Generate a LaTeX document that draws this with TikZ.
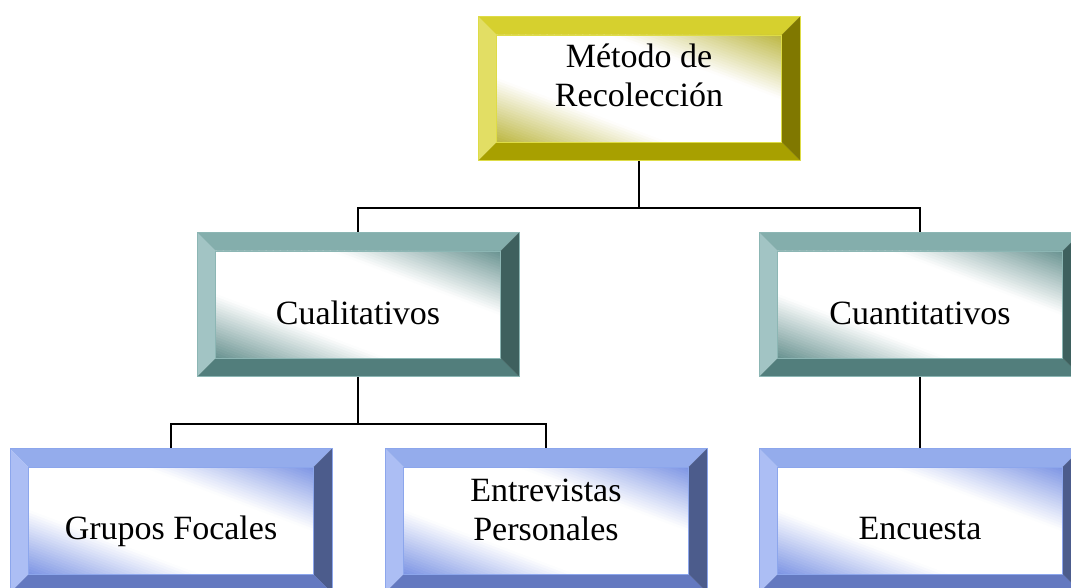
\documentclass[tikz,border=0pt]{standalone}
\usepackage{fontspec}
\setmainfont{Liberation Serif}

\definecolor{ytop}{RGB}{214,208,46}
\definecolor{yleft}{RGB}{226,222,100}
\definecolor{ybot}{RGB}{168,160,0}
\definecolor{yright}{RGB}{128,120,0}
\definecolor{yline}{RGB}{222,220,70}
\definecolor{ycorner}{RGB}{188,182,64}

\definecolor{ttop}{RGB}{132,174,172}
\definecolor{tleft}{RGB}{162,196,196}
\definecolor{tbot}{RGB}{82,126,124}
\definecolor{tright}{RGB}{62,96,94}
\definecolor{tline}{RGB}{140,182,180}
\definecolor{tcorner}{RGB}{104,146,144}

\definecolor{btop}{RGB}{148,172,236}
\definecolor{bleft}{RGB}{172,190,244}
\definecolor{bbot}{RGB}{100,121,192}
\definecolor{bright}{RGB}{76,92,140}
\definecolor{bline}{RGB}{140,166,236}
\definecolor{bcorner}{RGB}{124,148,228}

\tikzset{
  bevbox/.style n args={6}{
    minimum width=322pt, minimum height=144pt, inner sep=0pt,
    draw=#6, line width=0.8pt,
    path picture={
      \coordinate (nw) at (path picture bounding box.north west);
      \coordinate (ne) at (path picture bounding box.north east);
      \coordinate (sw) at (path picture bounding box.south west);
      \coordinate (se) at (path picture bounding box.south east);
      \fill[#1] (nw) -- (ne) -- ([xshift=-18.5pt,yshift=-18.5pt]ne) -- ([xshift=18.5pt,yshift=-18.5pt]nw) -- cycle;
      \fill[#3] (sw) -- (se) -- ([xshift=-18.5pt,yshift=18.5pt]se) -- ([xshift=18.5pt,yshift=18.5pt]sw) -- cycle;
      \fill[#2] (nw) -- ([xshift=18.5pt,yshift=-18.5pt]nw) -- ([xshift=18.5pt,yshift=18.5pt]sw) -- (sw) -- cycle;
      \fill[#4] (ne) -- ([xshift=-18.5pt,yshift=-18.5pt]ne) -- ([xshift=-18.5pt,yshift=18.5pt]se) -- (se) -- cycle;
      \begin{scope}[shift={(path picture bounding box.center)}, x=1pt, y=1pt]
        \begin{scope}
          \clip (-142.5,-53.5) rectangle (142.5,53.5);
          \fill[white] (-142.5,-53.5) rectangle (142.5,53.5);
          \foreach \i in {0,...,79}{
            \pgfmathsetmacro{\sa}{-2+\i*0.05}
            \pgfmathsetmacro{\sb}{\sa+0.06}
            \pgfmathsetmacro{\pc}{100*min(1,max(0,(abs(\sa+0.025)-0.8)/1.2))}
            \fill[#5!\pc!white] ({142.5*(\sa-1)},53.5) -- ({142.5*(\sb-1)},53.5) -- ({142.5*(\sb+1)},-53.5) -- ({142.5*(\sa+1)},-53.5) -- cycle;
          }
        \end{scope}
        \draw[#6, line width=0.6pt] (-142.5,-53.5) rectangle (142.5,53.5);
      \end{scope}
    }
  },
  yellowbox/.style={bevbox={ytop}{yleft}{ybot}{yright}{ycorner}{yline}},
  tealbox/.style={bevbox={ttop}{tleft}{tbot}{tright}{tcorner}{tline}},
  bluebox/.style={bevbox={btop}{bleft}{bbot}{bright}{bcorner}{bline}},
  lbl/.style={font=\fontsize{34}{39}\selectfont, align=center, inner sep=0pt, anchor=base},
  conn/.style={draw=black, line width=1.4pt}
}

\begin{document}
\begin{tikzpicture}[x=1pt,y=-1pt]
\useasboundingbox (0,0) rectangle (1071,588);
\clip (0,0) rectangle (1071,588);

\node[yellowbox] (metodo) at (639,88.5) {};
\node[tealbox] (cuali) at (358,304.5) {};
\node[tealbox] (cuanti) at (920,304.5) {};
\node[bluebox] (grupos) at (171,520.5) {};
\node[bluebox] (entre) at (546,520.5) {};
\node[bluebox] (encuesta) at (920,520.5) {};

\node[lbl] (tmetodo) at (639,107) {Método de\\Recolección};
\node[lbl] (tcuali) at (358,324) {Cualitativos};
\node[lbl] (tcuanti) at (920,324) {Cuantitativos};
\node[lbl] (tgrupos) at (171,539) {Grupos Focales};
\node[lbl] (tentre) at (546,540) {Entrevistas\\Personales};
\node[lbl] (tencuesta) at (920,539) {Encuesta};

\coordinate (j1) at (639,208);
\coordinate (j2) at (358,424);
\draw[conn] (metodo.south) -- (j1) -| (cuali.north);
\draw[conn] (j1) -| (cuanti.north);
\draw[conn] (cuali.south) -- (j2) -| (grupos.north);
\draw[conn] (j2) -| (entre.north);
\draw[conn] (cuanti.south) -- (encuesta.north);
\end{tikzpicture}
\end{document}
